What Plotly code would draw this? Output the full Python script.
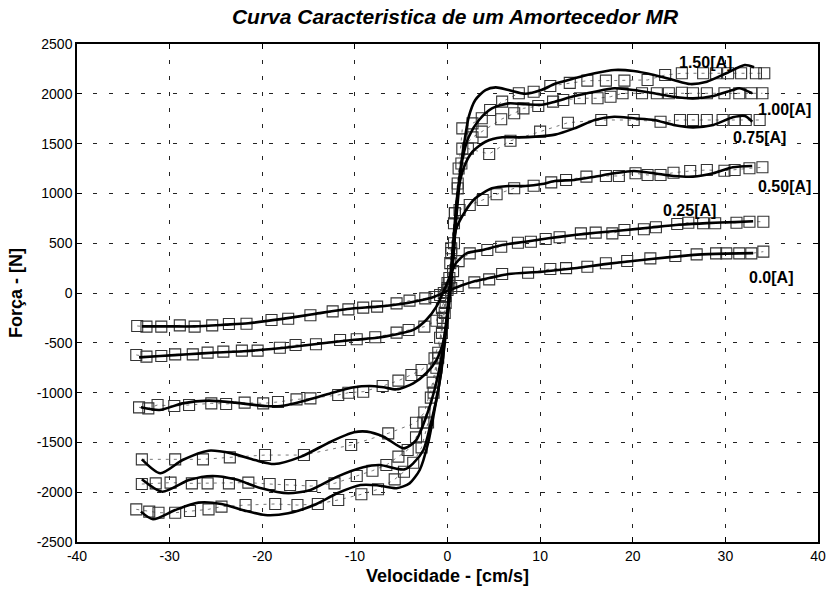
import plotly.graph_objects as go

# ---- measured points (velocity [cm/s], force [N]) ----
v_exp_000 = [-33.5, -32.5, -30.9, -28.9, -27.3, -25.4, -23.6, -21.7, -19.0, -17.2, -14.8, -12.4, -10.7, -9.1, -7.6,
             -5.5, -4.1, -2.4, -1.4, -0.8, -0.4, 0.0, 0.4, 1.1, 2.9, 4.5, 5.9, 8.7, 11.1, 12.8, 15.1, 17.1, 19.4,
             21.9, 24.6, 26.9, 29.0, 30.1, 31.5, 32.8, 34.1]
f_exp_000 = [-331, -338, -338, -325, -338, -325, -311, -308, -271, -258, -224, -184, -164, -147, -137,
             -104, -77, -54, -40, -20, 0, 30, 50, 70, 107, 137, 191, 204, 241, 250, 264, 298, 321,
             348, 371, 388, 398, 398, 398, 398, 415]

v_exp_025 = [-33.6, -32.5, -30.9, -29.4, -27.5, -25.9, -24.2, -22.2, -20.5, -18.1, -16.4, -14.2, -11.6, -9.8, -7.8,
             -5.5, -4.2, -2.5, -1.2, -0.6, -0.2, 0.2, 0.6, 1.2, 2.4, 4.3, 5.8, 7.6, 9.0, 10.6, 12.1, 14.4, 16.0,
             17.8, 19.1, 21.2, 22.5, 24.8, 26.0, 27.6, 28.9, 31.2, 32.6, 34.1]
f_exp_025 = [-622, -639, -632, -616, -616, -599, -589, -579, -579, -549, -522, -515, -472, -465, -445,
             -398, -371, -338, -278, -150, -30, 100, 220, 320, 398, 432, 465, 505, 515, 542, 559, 599, 606,
             599, 633, 640, 660, 693, 706, 700, 700, 706, 716, 716]

v_exp_050 = [-33.3, -32.3, -31.3, -29.5, -27.9, -25.5, -23.9, -21.9, -19.9, -18.3, -16.3, -14.8, -11.8, -10.7, -9.1,
             -7.0, -5.3, -3.9, -2.8, -1.4, -0.8, -0.3, 0.2, 0.7, 1.3, 2.4, 3.8, 5.3, 7.2, 9.3, 11.2, 12.8, 15.0,
             17.1, 18.5, 20.3, 21.6, 23.0, 24.4, 26.2, 28.0, 29.9, 31.0, 32.6, 34.0]
f_exp_050 = [-1148, -1158, -1124, -1135, -1124, -1108, -1114, -1101, -1108, -1094, -1068, -1058, -1024, -1001, -991,
             -934, -880, -823, -773, -656, -450, -200, 150, 500, 833, 884, 934, 991, 1051, 1077, 1111, 1135, 1168,
             1175, 1175, 1202, 1185, 1185, 1208, 1225, 1235, 1228, 1235, 1252, 1262]

v_exp_075 = [-33.0, -29.4, -26.4, -23.5, -19.7, -15.5, -10.4, -6.4, -3.4, -2.5, -1.6, -1.0, -0.5, 0.0, 0.4, 0.8,
             1.1, 1.5, 2.2, 4.5, 6.8, 10.0, 13.0, 16.6, 20.1, 23.0, 25.1, 26.5, 28.0, 29.7, 31.0, 32.2, 33.7]
f_exp_075 = [-1670, -1670, -1670, -1650, -1627, -1627, -1526, -1409, -1302, -1200, -900, -600, -250, 100, 450, 800,
             1050, 1300, 1450, 1396, 1529, 1620, 1710, 1737, 1737, 1720, 1737, 1737, 1737, 1737, 1737, 1737, 1737]

v_exp_100 = [-33.0, -31.5, -29.9, -27.6, -25.9, -23.6, -21.5, -19.2, -17.0, -14.7, -12.2, -9.8, -8.1, -6.6, -5.3,
             -4.3, -3.4, -2.6, -1.8, -1.2, -0.6, -0.2, 0.3, 0.7, 1.1, 1.6, 2.7, 3.7, 5.8, 7.2, 8.2, 9.8, 11.4, 12.5,
             14.3, 16.2, 17.6, 18.9, 21.0, 22.6, 23.9, 25.3, 26.5, 28.0, 29.9, 31.5, 32.8, 34.0]
f_exp_100 = [-1918, -1911, -1904, -1911, -1911, -1911, -1904, -1918, -1928, -1938, -1911, -1837, -1784, -1727, -1643,
             -1576, -1450, -1300, -1050, -750, -400, -100, 300, 700, 1100, 1450, 1563, 1620, 1744, 1804, 1854, 1877, 1921, 1938,
             1955, 1955, 1971, 2005, 2005, 2005, 2005, 2011, 2005, 2005, 2005, 2005, 2005, 2005]

v_exp_150 = [-33.6, -32.2, -31.2, -29.4, -27.8, -25.8, -24.4, -21.8, -18.6, -16.2, -14.0, -11.8, -9.3, -7.5, -5.7,
             -4.7, -3.7, -2.8, -2.1, -1.5, -1.0, -0.5, 0.0, 0.4, 0.8, 1.2, 1.6, 2.7, 3.7, 4.6, 5.9, 7.7, 9.3, 11.1,
             13.2, 15.1, 17.1, 19.1, 21.6, 23.5, 25.3, 27.6, 29.0, 30.3, 31.7, 33.3, 34.2]
f_exp_150 = [-2172, -2195, -2206, -2206, -2189, -2172, -2145, -2129, -2118, -2129, -2118, -2078, -2021, -1971, -1871,
             -1794, -1704, -1550, -1300, -1000, -650, -300, 50, 400, 800, 1250, 1653, 1703, 1754, 1837, 1921, 2005, 2021, 2078,
             2110, 2132, 2132, 2132, 2139, 2189, 2206, 2206, 2206, 2206, 2206, 2206, 2206]

# ---- model curves ----
v_fit_000 = [-33, -30, -27.3, -24, -21.5, -18, -14.4, -10.8, -7.6, -5, -3, -1.5, 0, 1.5, 3, 4.5, 6.6, 10.2, 13.7,
             17, 20, 24, 27, 30, 33]
f_fit_000 = [-335, -335, -335, -318, -303, -262, -211, -160, -137, -110, -75, -40, 20, 75, 120, 150, 190, 214, 248,
             290, 322, 360, 385, 395, 400]

v_fit_025 = [-33.3, -31, -28, -25, -22, -19, -16.2, -13, -10, -7.6, -5.9, -3.7, -2.3, -1.2, -0.2, 0.9, 2.1, 3.8,
             5.9, 8.4, 10.9, 13.7, 16, 19, 22, 25, 28, 31, 33]
f_fit_025 = [-646, -632, -615, -598, -585, -562, -535, -500, -470, -450, -422, -371, -271, -137, 64, 298, 400, 432,
             482, 515, 549, 582, 605, 630, 658, 685, 702, 712, 720]

v_fit_050 = [-33.1, -31.1, -28.6, -25.8, -22.9, -19.7, -18.0, -15.1, -12.6, -10.1, -8.4, -6.9, -5.5, -3.7, -2.3,
             -1.2, -0.5, 0, 0.5, 0.9, 2.0, 3.0, 4.8, 6.6, 8.4, 10.2, 11.6, 13.7, 15.9, 18.0, 20.1, 22.3, 24.4, 26.5,
             28.7, 30.8, 32.9]
f_fit_050 = [-1148, -1175, -1108, -1081, -1101, -1135, -1135, -1074, -1007, -947, -934, -947, -967, -907, -806,
             -673, -505, -238, 300, 633, 833, 951, 1051, 1074, 1074, 1094, 1125, 1135, 1168, 1202, 1225, 1202, 1175, 1168,
             1202, 1262, 1275]

v_fit_075 = [-33.0, -31.0, -28.6, -25.8, -23.3, -20.8, -18.7, -15.8, -12.6, -10.1, -8.7, -6.9, -4.7, -3.4, -2.3,
             -1.4, -0.7, -0.2, 0.2, 0.7, 1.1, 1.8, 2.7, 4.1, 5.9, 7.7, 9.5, 11.6, 13.7, 15.9, 18.0, 20.1, 22.3, 24.4,
             26.5, 28.7, 30.8, 32.1, 32.9]
f_fit_075 = [-1670, -1810, -1677, -1583, -1610, -1677, -1717, -1643, -1493, -1399, -1392, -1443, -1560, -1480, -1242,
             -974, -673, -338, 0, 432, 1001, 1268, 1419, 1519, 1563, 1563, 1570, 1590, 1653, 1737, 1770, 1754, 1737, 1687,
             1663, 1687, 1764, 1777, 1720]

v_fit_100 = [-33.0, -30.8, -27.9, -25.4, -22.9, -20.1, -17.2, -14.8, -11.9, -9.1, -7.3, -5.5, -4.6, -3.7, -2.6,
             -1.8, -1.0, -0.5, 0, 0.4, 0.9, 1.6, 2.3, 3.4, 4.8, 6.6, 8.4, 10.2, 11.6, 13.7, 15.9, 18.0, 20.1, 22.3,
             24.4, 26.5, 28.7, 30.8, 31.5, 32.9]
f_fit_100 = [-1871, -1995, -1878, -1837, -1871, -1961, -2011, -1978, -1844, -1750, -1727, -1765, -1770, -1710, -1576,
             -1308, -974, -639, -238, 97, 700, 1335, 1569, 1737, 1854, 1904, 1895, 1890, 1921, 1978, 2021, 2055, 2038, 2005,
             1971, 1954, 1978, 2038, 2055, 2005]

v_fit_150 = [-33.1, -31.8, -29.4, -26.9, -24.4, -21.9, -19.7, -17.2, -14.4, -11.9, -9.4, -7.6, -5.5, -4.1, -3.0,
             -2.1, -1.4, -0.7, -0.2, 0.3, 0.9, 1.3, 1.8, 2.3, 3.0, 4.1, 5.2, 6.6, 8.4, 10.2, 11.6, 13.7, 15.9, 18.0,
             20.1, 22.3, 24.4, 26.2, 28.0, 30.1, 32.1, 33.1]
f_fit_150 = [-2195, -2272, -2179, -2105, -2118, -2185, -2229, -2212, -2129, -2011, -1928, -1930, -1960, -1911, -1777,
             -1509, -1175, -806, -405, 150, 833, 1168, 1503, 1770, 1938, 2038, 2065, 2038, 2000, 2040, 2100, 2155, 2206, 2239,
             2229, 2189, 2139, 2098, 2122, 2206, 2289, 2266]

# current labels and where they sit (data coordinates)
label_text = ["1.50[A]", "1.00[A]", "0.75[A]", "0.50[A]", "0.25[A]", "0.0[A]"]
label_v = [27.8, 36.4, 33.7, 36.4, 26.1, 34.9]
label_f = [2310, 1840, 1560, 1070, 830, 160]

# axis ticks (plain hyphen-minus in the labels)
x_ticks = [-40, -30, -20, -10, 0, 10, 20, 30, 40]
y_ticks = [-2500, -2000, -1500, -1000, -500, 0, 500, 1000, 1500, 2000, 2500]

exp_sets = [(v_exp_000, f_exp_000), (v_exp_025, f_exp_025), (v_exp_050, f_exp_050),
            (v_exp_075, f_exp_075), (v_exp_100, f_exp_100), (v_exp_150, f_exp_150)]
fit_sets = [(v_fit_000, f_fit_000), (v_fit_025, f_fit_025), (v_fit_050, f_fit_050),
            (v_fit_075, f_fit_075), (v_fit_100, f_fit_100), (v_fit_150, f_fit_150)]

FONT = "Liberation Sans, Arial, Helvetica, sans-serif"

fig = go.Figure()

for vx, fy in exp_sets:
    fig.add_trace(go.Scatter(
        x=vx, y=fy, mode="lines+markers",
        line=dict(color="#555555", width=0.8, dash="3px,5px"),
        marker=dict(symbol="square-open", size=11, color="#333333", line=dict(width=1.1, color="#333333")),
        showlegend=False, hoverinfo="skip"))

for vx, fy in fit_sets:
    fig.add_trace(go.Scatter(
        x=vx, y=fy, mode="lines",
        line=dict(color="black", width=2.6, shape="spline", smoothing=0.7),
        showlegend=False, hoverinfo="skip"))

annotations = []
for t, lv, lf in zip(label_text, label_v, label_f):
    annotations.append(dict(x=lv, y=lf, xref="x", yref="y", text="<b>" + t + "</b>",
                            showarrow=False, font=dict(family=FONT, size=16, color="black"),
                            xanchor="center", yanchor="middle"))

annotations.append(dict(x=0.5, y=0, xref="paper", yref="paper", yshift=-34,
                        text="<b>Velocidade - [cm/s]</b>", showarrow=False,
                        font=dict(family=FONT, size=18, color="black"),
                        xanchor="center", yanchor="middle"))
annotations.append(dict(x=0, y=0.5, xref="paper", yref="paper", xshift=-61,
                        text="<b>Força - [N]</b>", showarrow=False, textangle=-90,
                        font=dict(family=FONT, size=18, color="black"),
                        xanchor="center", yanchor="middle"))

axis_common = dict(
    showline=True, linecolor="black", linewidth=1.5, mirror="ticks",
    ticks="inside", ticklen=5, tickwidth=1, tickcolor="black",
    showgrid=True, gridcolor="#222222", gridwidth=1, griddash="4px,12px",
    zeroline=False, tickfont=dict(family=FONT, size=14, color="black"),
)

fig.update_layout(
    width=834, height=590,
    margin=dict(l=77, r=8, t=44, b=48),
    paper_bgcolor="white", plot_bgcolor="white",
    title=dict(text="<b><i>Curva Caracteristica de um Amortecedor MR</i></b>",
               font=dict(family=FONT, size=21, color="black"),
               x=455 / 834, xanchor="center", xref="container",
               y=1 - 17 / 590, yanchor="middle", yref="container"),
    xaxis=dict(range=[-40, 40], tickmode="array", tickvals=x_ticks,
               ticktext=[str(t) for t in x_ticks], **axis_common),
    yaxis=dict(range=[-2500, 2500], tickmode="array", tickvals=y_ticks,
               ticktext=[str(t) for t in y_ticks], **axis_common),
    annotations=annotations,
)

fig.write_html("out.html")
